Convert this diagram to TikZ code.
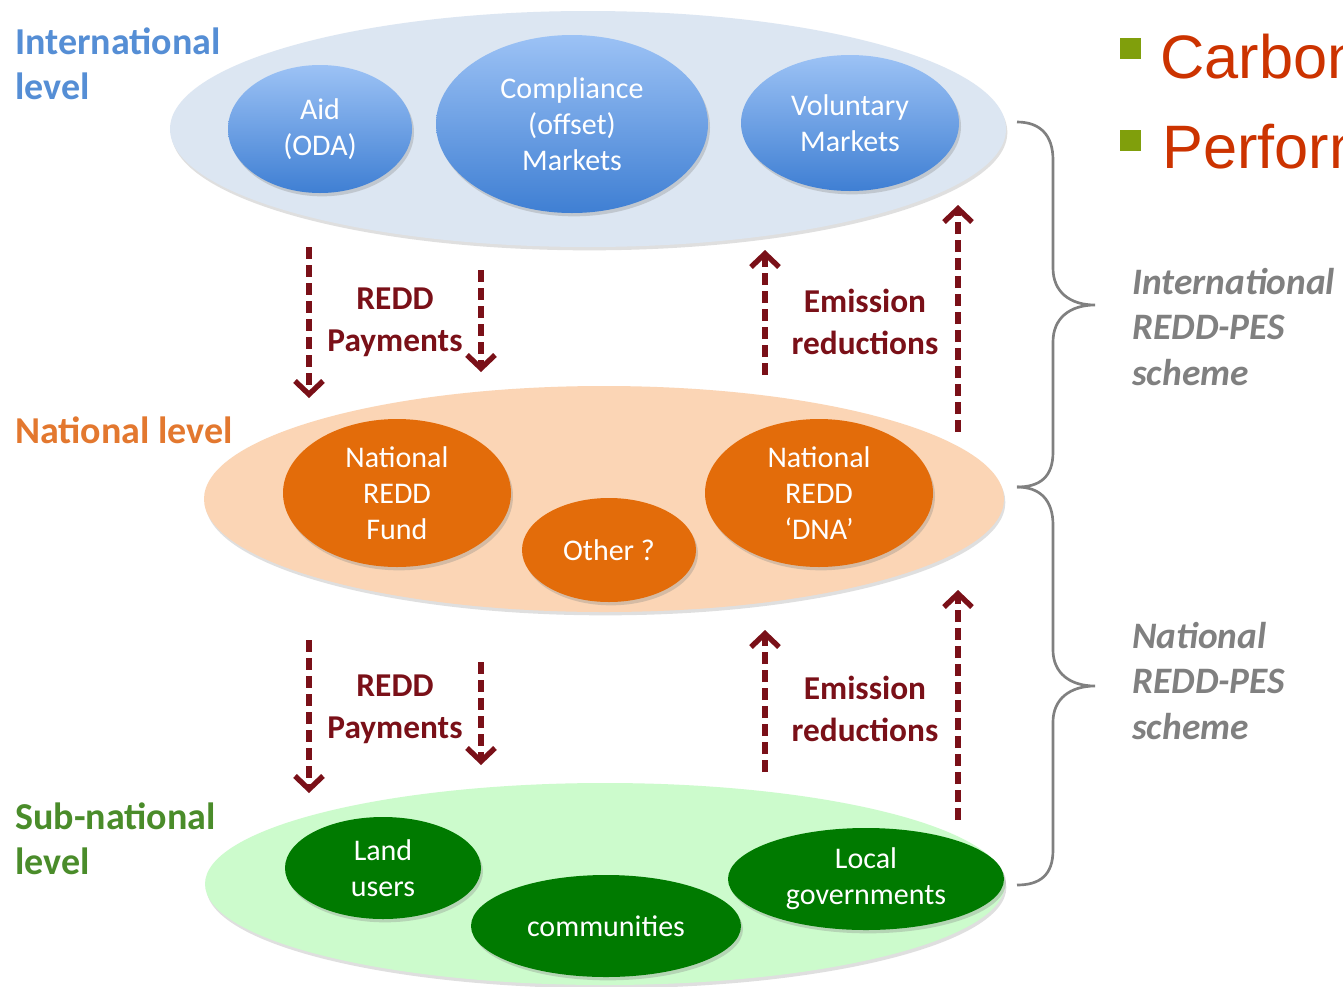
\documentclass[tikz,border=0pt]{standalone}
\usepackage{fontspec}
\setmainfont{Carlito}
\newfontfamily\arialfont{Liberation Sans}
\usetikzlibrary{shapes.geometric,shadows,arrows.meta}
\definecolor{intfill}{HTML}{DCE6F2}
\definecolor{natfill}{HTML}{FBD5B5}
\definecolor{subfill}{HTML}{CCFBCC}
\definecolor{bluetop}{HTML}{9CC2F5}
\definecolor{bluebot}{HTML}{3F7FD3}
\definecolor{orangebub}{HTML}{E36C0A}
\definecolor{greenbub}{HTML}{007A00}
\definecolor{arrred}{HTML}{7A1018}
\definecolor{intblue}{HTML}{558ED5}
\definecolor{natorange}{HTML}{E3782F}
\definecolor{subgreen}{HTML}{4A8C2A}
\definecolor{schemegrey}{HTML}{808080}
\definecolor{bullred}{HTML}{CC3300}
\definecolor{sqgreen}{HTML}{809F0C}
\begin{document}
\begin{tikzpicture}[x=0.75pt,y=-0.75pt,
  ell/.style 2 args={ellipse, inner sep=0pt, minimum width=#1*0.75pt, minimum height=#2*0.75pt},
  outer/.style={drop shadow={shadow xshift=1pt, shadow yshift=-2.5pt, opacity=0.25}},
  bub/.style={text=white, align=center, font=\fontsize{22.5}{27}\selectfont,
    drop shadow={shadow xshift=1.5pt, shadow yshift=-2.5pt, opacity=0.3}},
  bluebub/.style={bub, top color=bluetop, bottom color=bluebot},
  orangebub/.style={bub, fill=orangebub},
  greenbub/.style={bub, fill=greenbub},
  lvl/.style={inner sep=0pt, align=left, anchor=west, font=\bfseries\fontsize{28.5}{34}\selectfont},
  flowlabel/.style={inner sep=0pt, align=center, text=arrred, font=\bfseries\fontsize{25}{31.5}\selectfont},
  scheme/.style={inner sep=0pt, align=left, anchor=west, text=schemegrey, font=\bfseries\itshape\fontsize{28}{34}\selectfont},
  flow/.style={draw=arrred, line width=3.8pt, dash pattern=on 9pt off 4.5pt, -{Straight Barb[length=10pt,width=21pt,line width=4pt]}},
  bracepath/.style={draw=schemegrey, line width=2pt},
  bullet/.style={fill=sqgreen, inner sep=0pt, minimum size=21*0.75pt},
  bulltext/.style={inner sep=0pt, anchor=base west, text=bullred, font=\arialfont\fontsize{46}{50}\selectfont}
]
\clip (0,0) rectangle (1343,986);
\fill[white] (0,0) rectangle (1343,986);

% outer level ellipses
\node[ell={836}{236}, outer, fill=intfill] (intl) at (588,129) {};
\node[ell={800}{226}, outer, fill=natfill] (natl) at (604,499) {};
\node[ell={800}{202}, outer, fill=subfill] (subl) at (605,884) {};

% international bubbles
\node[ell={184}{128}, bluebub] (aid) at (320,129) {Aid\\(ODA)};
\node[ell={272}{178}, bluebub] (comp) at (572,124) {Compliance\\(offset)\\Markets};
\node[ell={218}{136}, bluebub] (vol) at (850,123) {Voluntary\\Markets};

% national bubbles
\node[ell={228}{148}, orangebub] (fund) at (397,493) {National\\REDD\\Fund};
\node[ell={174}{104}, orangebub] (other) at (609,550) {Other ?};
\node[ell={228}{148}, orangebub] (dna) at (819,493) {National\\REDD\\‘DNA’};

% sub-national bubbles
\node[ell={196}{102}, greenbub] (land) at (383,868) {Land\\users};
\node[ell={270}{102}, greenbub] (comm) at (606,926) {communities};
\node[ell={276}{102}, greenbub] (local) at (866,879) {Local\\governments};

% level labels
\node[lvl, text=intblue] (lint) at (15,64) {International\\level};
\node[lvl, text=natorange] (lnat) at (15,430) {National level};
\node[lvl, text=subgreen] (lsub) at (15,839) {Sub-national\\level};

% flow labels
\node[flowlabel] (pay1) at (395,322) {REDD\\Payments};
\node[flowlabel] (em1) at (865,322) {Emission\\reductions};
\node[flowlabel] (pay2) at (395,709) {REDD\\Payments};
\node[flowlabel] (em2) at (865,709) {Emission\\reductions};

% flow arrow end points
\coordinate (d1a) at (309,247); \coordinate (d1b) at (309,398);
\coordinate (d2a) at (481,270); \coordinate (d2b) at (481,372);
\coordinate (u1a) at (765,375); \coordinate (u1b) at (765,250);
\coordinate (u2a) at (958,432); \coordinate (u2b) at (958,205);
\coordinate (d3a) at (309,640); \coordinate (d3b) at (309,793);
\coordinate (d4a) at (481,662); \coordinate (d4b) at (481,765);
\coordinate (u3a) at (765,772); \coordinate (u3b) at (765,630);
\coordinate (u4a) at (958,820); \coordinate (u4b) at (958,590);

\draw[flow] (d1a) -- (d1b);
\draw[flow] (d2a) -- (d2b);
\draw[flow] (u1a) -- (u1b);
\draw[flow] (u2a) -- (u2b);
\draw[flow] (d3a) -- (d3b);
\draw[flow] (d4a) -- (d4b);
\draw[flow] (u3a) -- (u3b);
\draw[flow] (u4a) -- (u4b);

% braces
\coordinate (b1top) at (1017,122);
\coordinate (b1tip) at (1095,305);
\coordinate (bmid) at (1017,487);
\coordinate (b2tip) at (1095,686);
\coordinate (b2bot) at (1017,885);
\path[bracepath] (b1top) .. controls (1040,122) and (1053,135) .. (1053,160)
  -- (1053,268) .. controls (1053,292) and (1070,305) .. (b1tip)
  .. controls (1070,305) and (1053,318) .. (1053,342)
  -- (1053,452) .. controls (1053,477) and (1040,487) .. (bmid);
\path[bracepath] (bmid) .. controls (1040,487) and (1053,500) .. (1053,525)
  -- (1053,650) .. controls (1053,673) and (1070,686) .. (b2tip)
  .. controls (1070,686) and (1053,699) .. (1053,722)
  -- (1053,850) .. controls (1053,875) and (1040,885) .. (b2bot);

% scheme labels
\node[scheme] (sint) at (1132,327) {International\\REDD-PES\\scheme};
\node[scheme] (snat) at (1132,681) {National\\REDD-PES\\scheme};

% bullets at top right
\node[bullet] (sq1) at (1130.5,48.5) {};
\node[bullet] (sq2) at (1130.5,140.5) {};
\node[bulltext] (carbon) at (1160,78) {Carbon};
\node[bulltext] (perf) at (1162,168) {Performance};
\end{tikzpicture}
\end{document}
